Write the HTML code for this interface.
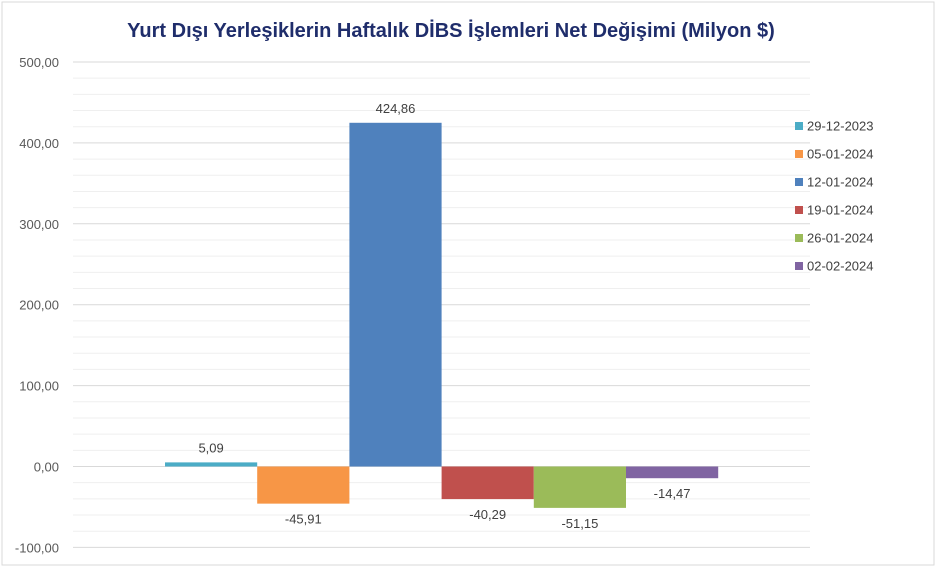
<!DOCTYPE html>
<html><head><meta charset="utf-8"><style>
html,body{margin:0;padding:0;background:#fff;}
svg{display:block;font-family:"Liberation Sans",sans-serif;}
</style></head><body>
<svg id="c" width="937" height="569" viewBox="0 0 937 569" xmlns="http://www.w3.org/2000/svg">
<rect x="2" y="2" width="932" height="563" fill="#fff" stroke="#d9d9d9"/>
<text x="451" y="37" text-anchor="middle" font-size="20" font-weight="bold" fill="#1f2d6b">Yurt Dışı Yerleşiklerin Haftalık DİBS İşlemleri Net Değişimi (Milyon $)</text>
<g id="grid"></g><g id="bars"></g><g id="legend"></g>
</svg>
<script>
const categories=["29-12-2023","05-01-2024","12-01-2024","19-01-2024","26-01-2024","02-02-2024"];
const values=[5.09,-45.91,424.86,-40.29,-51.15,-14.47];
const labels=["5,09","-45,91","424,86","-40,29","-51,15","-14,47"];
const colors=["#4bacc6","#f79646","#4f81bd","#c0504d","#9bbb59","#8064a2"];
const ticks=[-100,0,100,200,300,400,500];
const tickLabels=["-100,00","0,00","100,00","200,00","300,00","400,00","500,00"];
const NS="http://www.w3.org/2000/svg";
const x0=73,x1=810,barStart=165,barW=92.2;
const y=v=>466.5-0.809*v;
function mk(t,a,p){const e=document.createElementNS(NS,t);for(const k in a)e.setAttribute(k,a[k]);p.appendChild(e);return e;}
const g=document.getElementById('grid'),b=document.getElementById('bars'),L=document.getElementById('legend');
for(let v=-100;v<=500;v+=20){
 if(v%100===0)continue;
 const l=mk('line',{x1:x0,x2:x1,y1:y(v),y2:y(v),stroke:'#efefef','stroke-width':1},g);
 
 
}
ticks.forEach((v,i)=>{
 const l=mk('line',{x1:x0,x2:x1,y1:y(v),y2:y(v),stroke:'#d9d9d9','stroke-width':1},g);
 
 
 const t=mk('text',{x:59,y:y(v)+5,'text-anchor':'end','font-size':13,fill:'#595959'},g);
 t.textContent=tickLabels[i];
 
 
});
values.forEach((v,i)=>{
 const xa=barStart+i*barW;
 const top=Math.min(y(v),y(0)),h=Math.abs(y(v)-y(0));
 const r=mk('rect',{x:xa,y:top,width:barW,height:h,fill:colors[i]},b);
 
 
 const ly=v>=0?y(v)-10:y(v)+20;
 const t=mk('text',{x:xa+barW/2,y:ly,'text-anchor':'middle','font-size':13,fill:'#404040'},b);
 t.textContent=labels[i];
 
 
 const ey=126+i*28;
 const s=mk('rect',{x:795,y:ey-4,width:8,height:8,fill:colors[i]},L);
 
 
 const lt=mk('text',{x:807,y:ey+4.5,'font-size':13,fill:'#404040'},L);
 lt.textContent=categories[i];
 
 
});
</script>
</body></html>
